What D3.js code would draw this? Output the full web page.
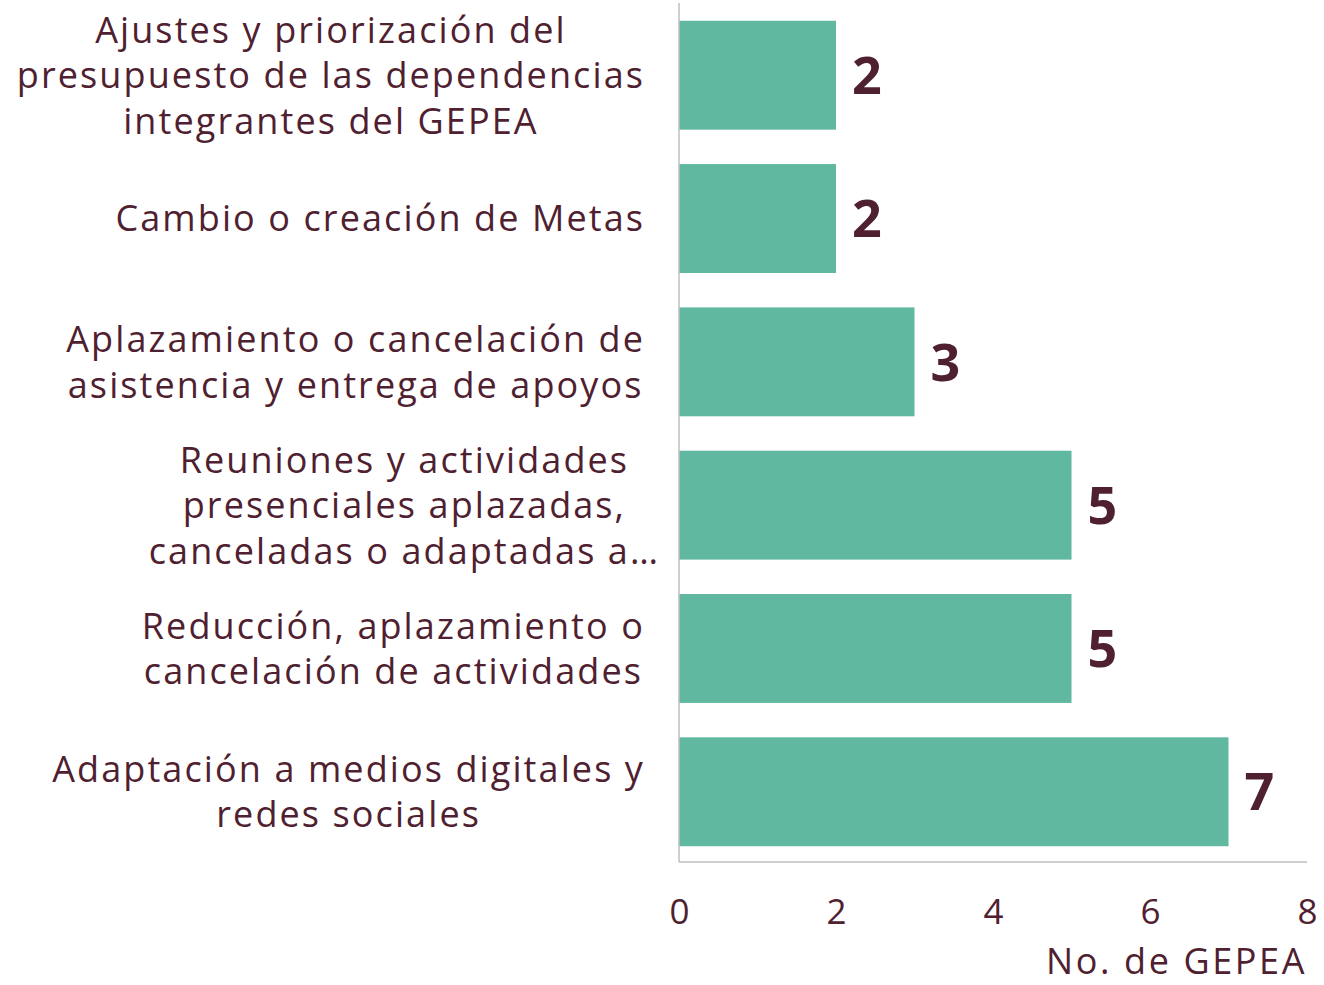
<!DOCTYPE html>
<html>
<head>
<meta charset="utf-8">
<script src="https://cdn.jsdelivr.net/npm/d3@7"></script>
<style>
  body { margin: 0; background: #fff; }
  text { font-family: "Open Sans", sans-serif; fill: #4f2130; }
</style>
</head>
<body>
<div id="chart"></div>
<script>
// categories, each one already split in lines like the original
var categories = [
  ['Ajustes y priorización del', 'presupuesto de las dependencias', 'integrantes del GEPEA'],
  ['Cambio o creación de Metas'],
  ['Aplazamiento o cancelación de', 'asistencia y entrega de apoyos'],
  ['Reuniones y actividades', 'presenciales aplazadas,', 'canceladas o adaptadas a…'],
  ['Reducción, aplazamiento o', 'cancelación de actividades'],
  ['Adaptación a medios digitales y', 'redes sociales']
];
var counts = [2, 2, 3, 5, 5, 7];
var xTicks = [0, 2, 4, 6, 8];
var xTitle = 'No. de GEPEA';

var width = 1324, height = 985;
var margin = {top: 5, right: 17, bottom: 123, left: 679};
var labelSize = '36px', labelSpacing = '2.1px';

var svg = d3.select('#chart').append('svg')
  .attr('width', width)
  .attr('height', height);

var x = d3.scaleLinear().domain([0, 8])
  .range([margin.left, width - margin.right]);
var y = d3.scaleBand().domain(d3.range(categories.length))
  .range([margin.top, height - margin.bottom])
  .paddingInner(0.24).paddingOuter(0.11);

// bars
svg.selectAll('rect.bar').data(counts).enter()
  .append('rect').attr('class', 'bar')
  .attr('x', x(0))
  .attr('y', function(d, i) { return y(i); })
  .attr('width', function(d) { return x(d) - x(0); })
  .attr('height', y.bandwidth())
  .attr('fill', '#61b8a0');

// axis lines
svg.append('line')
  .attr('x1', x(0)).attr('x2', x(0))
  .attr('y1', margin.top - 2).attr('y2', height - margin.bottom)
  .attr('stroke', '#bfbfbf').attr('stroke-width', 1.5);
svg.append('line')
  .attr('x1', x(0)).attr('x2', x(8))
  .attr('y1', height - margin.bottom).attr('y2', height - margin.bottom)
  .attr('stroke', '#bfbfbf').attr('stroke-width', 1.5);

// value labels
svg.selectAll('text.value').data(counts).enter()
  .append('text').attr('class', 'value')
  .attr('x', function(d) { return x(d) + 16; })
  .attr('y', function(d, i) { return y(i) + y.bandwidth() / 2; })
  .attr('dy', '0.36em')
  .style('font-size', '52px')
  .style('font-weight', 'bold')
  .text(function(d) { return d; });

// x ticks
var xAxis = svg.append('g')
  .attr('transform', 'translate(0,' + (height - margin.bottom) + ')')
  .call(d3.axisBottom(x).tickValues(xTicks).tickSize(0).tickPadding(37));
xAxis.select('.domain').remove();
xAxis.selectAll('text')
  .style('font-size', '35px')
  .attr('fill', '#4f2130');

svg.append('text')
  .attr('x', x(8))
  .attr('y', 961)
  .attr('dy', '0.36em')
  .attr('text-anchor', 'end')
  .style('font-size', labelSize)
  .style('letter-spacing', '2.6px')
  .text(xTitle);

// category labels, block centred, widest line ending at labelRight
var labelRight = 645, lineHeight = 45.5;
var labels = svg.selectAll('g.label').data(categories).enter()
  .append('g').attr('class', 'label');

labels.each(function(lines, i) {
  var g = d3.select(this);
  var n = lines.length;
  var cy = y(i) + y.bandwidth() / 2;
  var texts = g.selectAll('text').data(lines).enter()
    .append('text')
    .attr('text-anchor', 'middle')
    .attr('y', function(d, j) { return cy + (j - (n - 1) / 2) * lineHeight; })
    .attr('dy', '0.36em')
    .style('font-size', labelSize)
    .style('letter-spacing', labelSpacing)
    .text(function(d) { return d; });
  // widest line, not counting a trailing ellipsis
  var maxW = 0;
  texts.each(function(d) {
    var w = this.getComputedTextLength();
    if (d.slice(-1) == '…') {
      var tmp = g.append('text').style('font-size', labelSize)
        .style('letter-spacing', labelSpacing).text('…');
      w -= tmp.node().getComputedTextLength();
      tmp.remove();
    }
    maxW = Math.max(maxW, w);
  });
  texts.attr('x', labelRight - maxW / 2);
});
</script>
</body>
</html>
